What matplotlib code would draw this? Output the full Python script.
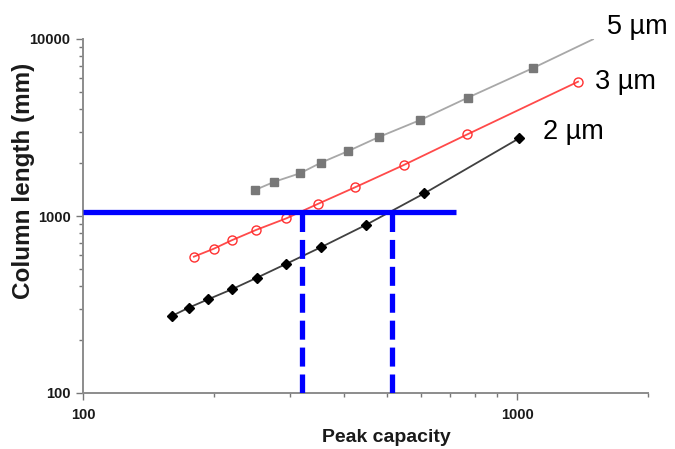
import numpy as np
import matplotlib.pyplot as plt
from matplotlib.ticker import LogLocator, NullFormatter, FixedLocator, FixedFormatter

plt.rcParams['font.family'] = ['Liberation Sans', 'DejaVu Sans']

# peak capacity vs column length for three particle sizes
pc_2um = [160, 175, 194, 220, 251, 293, 354, 448, 611, 1010]
len_2um = [272, 303, 338, 385, 447, 535, 668, 890, 1343, 2748]

pc_3um = [180, 200, 220, 250, 294, 347, 423, 548, 768, 1380]
len_3um = [589, 653, 729, 833, 970, 1169, 1452, 1942, 2895, 5738]

# last 5 um point is the line end only (no marker)
pc_5um = [249, 276, 316, 353, 407, 480, 598, 769, 1087, 1494]
len_5um = [1403, 1562, 1743, 2000, 2321, 2794, 3487, 4659, 6853, 9960]

# target length and the peak capacities it gives
target_len = 1054
target_pc = [320, 514]
target_pc_max = 724

series_labels = ["5 \u00b5m", "3 \u00b5m", "2 \u00b5m"]

fig = plt.figure(figsize=(6.75, 4.49), dpi=100)
ax = fig.add_axes([83/675, 1-393/449, (648-83)/675, (393-39)/449])

ax.plot(pc_5um, len_5um, color="#a8a8a8", lw=1.3, marker="s", ms=6.2,
        mfc="#787878", mec="#787878", markevery=list(range(len(pc_5um)-1)), zorder=3)
ax.plot(pc_3um, len_3um, color="#ff4a4a", lw=1.3, marker="o", ms=6.5,
        mfc="none", mec="#ff3030", mew=1.0, zorder=3)
ax.plot(pc_2um, len_2um, color="#404040", lw=1.3, marker="D", ms=4.8,
        mfc="black", mec="black", zorder=3)

ax.hlines(target_len, 100, target_pc_max, color="#0000ff", lw=3.8, zorder=4)
ax.vlines(target_pc, 100, target_len, color="#0000ff", lw=3.8,
          linestyles=[(0, (3.6, 1.5))], zorder=4)

ax.set_xscale("log")
ax.set_yscale("log")
ax.set_xlim(100, 2000)
ax.set_ylim(100, 10000)

for s in ["top", "right"]:
    ax.spines[s].set_visible(False)
for s in ["left", "bottom"]:
    ax.spines[s].set_color("#8c8c8c")
    ax.spines[s].set_linewidth(1.4)

ax.xaxis.set_major_locator(FixedLocator([100, 1000]))
ax.xaxis.set_major_formatter(FixedFormatter(["100", "1000"]))
ax.yaxis.set_major_locator(FixedLocator([100, 1000, 10000]))
ax.yaxis.set_major_formatter(FixedFormatter(["100", "1000", "10000"]))
ax.xaxis.set_minor_locator(LogLocator(base=10, subs=np.arange(2, 10)))
ax.yaxis.set_minor_locator(LogLocator(base=10, subs=np.arange(2, 10)))
ax.xaxis.set_minor_formatter(NullFormatter())
ax.yaxis.set_minor_formatter(NullFormatter())
ax.tick_params(which="both", direction="out", color="#777777", width=1.0)
ax.tick_params(which="major", length=5)
ax.tick_params(which="minor", length=3)
ax.tick_params(axis="x", which="major", pad=6)
ax.tick_params(axis="y", which="major", pad=4)
for lab in ax.get_xticklabels() + ax.get_yticklabels():
    lab.set_fontweight("bold")
    lab.set_fontsize(10.5)
    lab.set_color("#1a1a1a")

fig.text(386/675, 1-438/449, "Peak capacity", ha="center", va="center",
         fontsize=14, fontweight="bold", color="#1a1a1a")
fig.text(24/675, 1-181/449, "Column length (mm)", ha="center", va="center",
         rotation=90, fontsize=17.5, fontweight="bold", color="#1a1a1a")

label_pos = [(607, 27), (595, 82), (543, 132)]
for txt, (px, py) in zip(series_labels, label_pos):
    fig.text(px/675, 1-py/449, txt, ha="left", va="center", fontsize=19.5, color="black")

fig.savefig("out.png", dpi=100)
